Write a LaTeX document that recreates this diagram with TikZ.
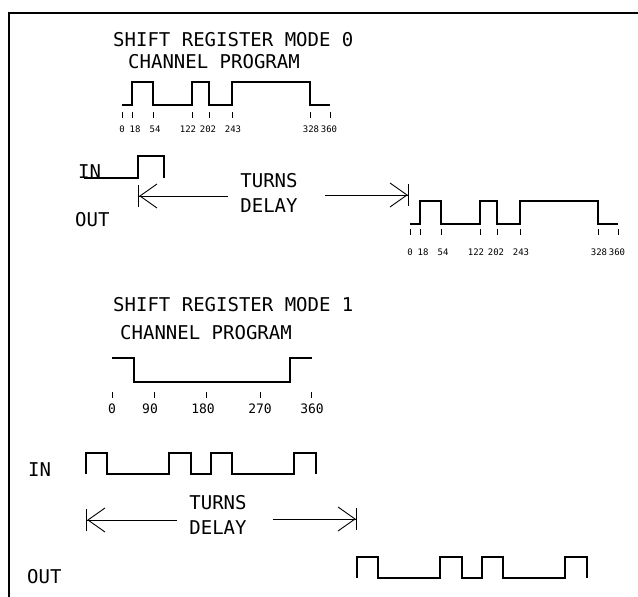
\documentclass[tikz,border=0pt]{standalone}
\usepackage{fontspec}
\setmainfont{DejaVu Sans Mono}
\usetikzlibrary{arrows.meta,calc}

\begin{document}
\begin{tikzpicture}[x=1pt, y=-1pt,
txt/.style={inner sep=0pt, font=\fontsize{19}{25}\selectfont},
num/.style={inner sep=0pt, font=\fontsize{9}{10}\selectfont},
bignum/.style={inner sep=0pt, font=\fontsize{13}{15}\selectfont},
wave/.style={line width=1.1pt, line join=miter},
tickmark/.style={line width=0.9pt},
delay/.style={line width=0.9pt, -{Straight Barb[length=17pt,width=24pt]Bar[width=22pt,line width=1.2pt]}},
frame/.style={line width=1.2pt}
]
\useasboundingbox (0,0) rectangle (638,597);
%Frame
\draw[frame] (9,597) |- (638,13);

%Mode 0 texts
\node[txt, anchor=west]   (title0)  at (113,40)     {SHIFT REGISTER MODE 0};
\node[txt, anchor=west]   (prog0)   at (128,62)     {CHANNEL PROGRAM};
\node[txt, anchor=base west] (in0)  at (78,178)     {IN};
\node[txt, anchor=west]   (out0)    at (75,220)     {OUT};
\node[txt, align=center, inner xsep=12pt] (td0) at (269,192.5) {TURNS\\DELAY};

%Mode 0 waves
\coordinate (cp0) at (122,105);
\coordinate (op0) at (410,224);
\coordinate (ip0) at (84,178);
\draw[wave] (cp0) -- ++(10,0) -- ++(0,-23) -- ++(21,0) -- ++(0,23) -- ++(39,0) -- ++(0,-23)
  -- ++(17,0) -- ++(0,23) -- ++(23,0) -- ++(0,-23) -- ++(78,0) -- ++(0,23) -- ++(20,0);
\draw[wave] (op0) -- ++(10,0) -- ++(0,-23) -- ++(21,0) -- ++(0,23) -- ++(39,0) -- ++(0,-23)
  -- ++(17,0) -- ++(0,23) -- ++(23,0) -- ++(0,-23) -- ++(78,0) -- ++(0,23) -- ++(20,0);
\draw[wave] (ip0) -- ++(54,0) -- ++(0,-22) -- ++(26,0) -- ++(0,22);
\foreach \t in {0,10,31,70,87,110,188,208} {
  \draw[tickmark] ($(cp0)+(\t,7)$) -- ++(0,6);
  \draw[tickmark] ($(op0)+(\t,5)$) -- ++(0,6);
}
\foreach \t/\d in {0/0,13/18,33/54,66/122,86/202,111/243,189/328,207/360} {
  \node[num] (c0-\d) at ($(cp0)+(\t,24)$) {\d};
  \node[num] (o0-\d) at ($(op0)+(\t,28)$) {\d};
}

%Mode 0 delay
\coordinate (d0l) at (138,196);
\coordinate (d0r) at (409,195);
\draw[delay] (td0.west |- d0l) -- (d0l);
\draw[delay] ($(td0.east |- d0r)+(15,0)$) -- (d0r);

%Mode 1 texts
\node[txt, anchor=west]   (title1)  at (113,305)    {SHIFT REGISTER MODE 1};
\node[txt, anchor=west]   (prog1)   at (120,333)    {CHANNEL PROGRAM};
\node[txt, anchor=west]   (in1)     at (28,470)     {IN};
\node[txt, anchor=west]   (out1)    at (27,577)     {OUT};
\node[txt, align=center, inner xsep=12pt] (td1) at (218,515) {TURNS\\DELAY};

%Mode 1 waves
\coordinate (cp1) at (112,358);
\coordinate (ip1) at (86,474);
\coordinate (op1) at (357,578);
\draw[wave] (cp1) -- ++(22,0) -- ++(0,24) -- ++(156,0) -- ++(0,-24) -- ++(22,0);
\draw[wave] (ip1) -- ++(0,-21) -- ++(21,0) -- ++(0,21) -- ++(62,0) -- ++(0,-21) -- ++(22,0)
  -- ++(0,21) -- ++(20,0) -- ++(0,-21) -- ++(21,0) -- ++(0,21) -- ++(62,0) -- ++(0,-21)
  -- ++(22,0) -- ++(0,21);
\draw[wave] (op1) -- ++(0,-21) -- ++(21,0) -- ++(0,21) -- ++(62,0) -- ++(0,-21) -- ++(22,0)
  -- ++(0,21) -- ++(20,0) -- ++(0,-21) -- ++(21,0) -- ++(0,21) -- ++(62,0) -- ++(0,-21)
  -- ++(22,0) -- ++(0,21);
\foreach \x/\lx/\d in {112/112/0,154/150/90,206/203/180,260/260/270,311/312/360} {
  \draw[tickmark] (\x,392) -- (\x,398);
  \node[bignum] (c1-\d) at (\lx,409) {\d};
}

%Mode 1 delay
\coordinate (d1l) at (86,520);
\coordinate (d1r) at (357,519);
\draw[delay] (td1.west |- d1l) -- (d1l);
\draw[delay] ($(td1.east |- d1r)+(14,0)$) -- (d1r);
\end{tikzpicture}
\end{document}
